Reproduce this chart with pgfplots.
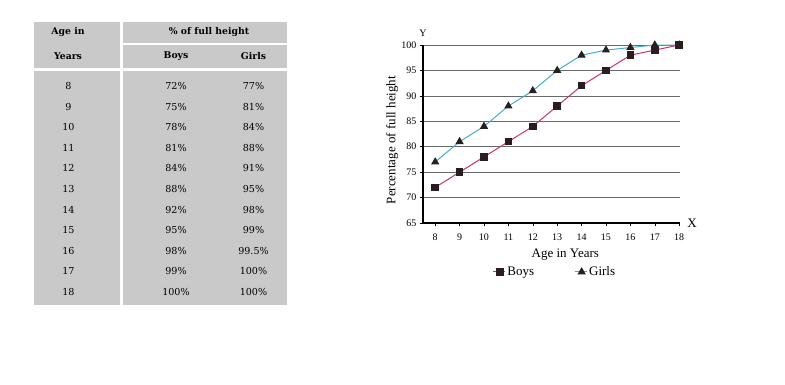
\documentclass[border=0pt]{standalone}
\usepackage{pgfplots}
\pgfplotsset{compat=1.18}
\usepackage{fontspec}
\setmainfont{Liberation Serif}
\newfontfamily\tabfont{DejaVu Serif}
\definecolor{tabgray}{RGB}{201,201,201}
\definecolor{boysc}{RGB}{196,52,112}
\definecolor{girlsc}{RGB}{70,172,205}
\definecolor{markc}{RGB}{40,30,32}
\definecolor{gridc}{RGB}{105,105,105}
\begin{document}
\begin{tikzpicture}[x=1pt,y=1pt]
\path (0,0) rectangle (785,384);
% table background (y = 384 - pixel row)
\fill[tabgray] (34,{384-22}) rectangle (119.5,{384-67.7});
\fill[tabgray] (122.5,{384-22}) rectangle (287,{384-43});
\fill[tabgray] (122.5,{384-45}) rectangle (287,{384-67.7});
\fill[tabgray] (34,{384-70.5}) rectangle (119.5,{384-305});
\fill[tabgray] (122.5,{384-70.5}) rectangle (287,{384-305});
\begin{scope}[every node/.style={font=\tabfont\fontsize{9.6}{11}\selectfont,inner sep=0pt}]
\node[font=\tabfont\bfseries\fontsize{9.3}{11}\selectfont] at (68,{384-32}) {Age in};
\node[font=\tabfont\bfseries\fontsize{9.3}{11}\selectfont] at (68,{384-56}) {Years};
\node[font=\tabfont\bfseries\fontsize{9.3}{11}\selectfont] at (209,{384-32}) {\% of full height};
\node[font=\tabfont\bfseries\fontsize{9.3}{11}\selectfont] at (176,{384-56}) {Boys};
\node[font=\tabfont\bfseries\fontsize{9.3}{11}\selectfont] at (253.5,{384-56}) {Girls};
\foreach \a/\b/\g [count=\i from 0] in {8/72\%/77\%,9/75\%/81\%,10/78\%/84\%,11/81\%/88\%,12/84\%/91\%,13/88\%/95\%,14/92\%/98\%,15/95\%/99\%,16/98\%/99.5\%,17/99\%/100\%,18/100\%/100\%}{
  \node at (68.5,{384-86-20.6*\i}) {\a};
  \node at (176,{384-86-20.6*\i}) {\b};
  \node at (253.5,{384-86-20.6*\i}) {\g};
}
\end{scope}
\begin{axis}[
  at={(423pt,161pt)}, anchor=south west,
  scale only axis, width=257.4pt, height=178pt,
  xmin=7.5, xmax=18.05, ymin=65, ymax=100,
  axis lines=left, axis line style={-, black, line width=1.1pt},
  xtick={8,...,18}, ytick={65,70,...,100},
  tick align=outside, major tick length=3pt,
  tick style={black, line width=0.5pt},
  ymajorgrids, grid style={gridc, line width=0.7pt},
  /pgf/number format/assume math mode=true,
  ticklabel style={font=\fontsize{10}{11}\selectfont},
  xticklabel style={yshift=-4pt},
  xlabel={Age in Years},
  ylabel={Percentage of full height},
  label style={font=\fontsize{13}{14}\selectfont},
  xlabel style={at={(axis description cs:0.553,-0.18)}, anchor=center},
  ylabel style={at={(axis description cs:-0.12,0.466)}, anchor=center},
  legend columns=2,
  legend style={draw=none, fill=none, at={(0.512,-0.275)}, anchor=center,
    font=\fontsize{13}{14}\selectfont, /tikz/every even column/.append style={column sep=38pt},
    inner sep=0pt},
  legend image code/.code={\draw[mark repeat=2,mark phase=2,#1] plot coordinates {(0pt,0pt)(7pt,0pt)(12pt,0pt)};},
  clip=false,
]
\addplot[boysc, line width=1pt, mark=square*, mark size=3.3pt, mark options={markc, fill=markc}]
  coordinates {(8,72)(9,75)(10,78)(11,81)(12,84)(13,88)(14,92)(15,95)(16,98)(17,99)(18,100)};
\addlegendentry{Boys}
\addplot[girlsc, line width=1pt, mark=triangle*, mark size=3.8pt, mark options={markc, fill=markc}]
  coordinates {(8,77)(9,81)(10,84)(11,88)(12,91)(13,95)(14,98)(15,99)(16,99.5)(17,100)(18,100)};
\addlegendentry{Girls}
\node[font=\fontsize{10}{11}\selectfont] at (axis description cs:0,1.065) {Y};
\node[font=\fontsize{13}{14}\selectfont] at (axis description cs:1.045,0) {X};
\end{axis}
\end{tikzpicture}
\end{document}
